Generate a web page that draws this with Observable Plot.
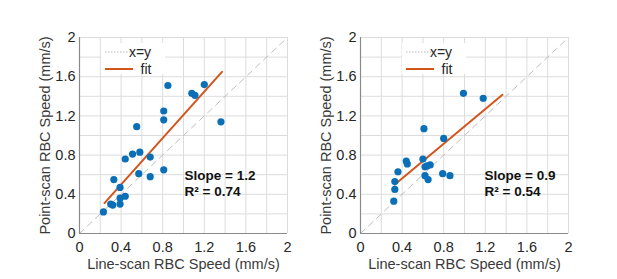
<!DOCTYPE html>
<html>
<head>
<meta charset="utf-8">
<script src="https://cdn.jsdelivr.net/npm/d3@7"></script>
<script src="https://cdn.jsdelivr.net/npm/@observablehq/plot@0.6"></script>
<style>
  body { margin: 0; background: #fff; }
  #wrap { position: relative; width: 617px; height: 279px; overflow: hidden; background: #fff; }
  .panel { position: absolute; top: 0; }
</style>
</head>
<body>
<div id="wrap"></div>
<script>
// ---- data ----
const leftX  = [0.23,0.30,0.32,0.33,0.39,0.39,0.39,0.44,0.44,0.51,0.55,0.58,0.57,0.68,0.68,0.81,0.81,0.81,0.85,1.08,1.11,1.20,1.36];
const leftY  = [0.22,0.30,0.29,0.55,0.47,0.36,0.30,0.38,0.76,0.81,1.09,0.83,0.61,0.78,0.58,1.25,1.16,0.65,1.51,1.43,1.41,1.52,1.14];
const leftFitX = [0.24, 1.37];
const leftFitY = [0.31, 1.65];
const leftStats = ["Slope = 1.2", "R² = 0.74"];

const rightX = [0.32,0.33,0.33,0.36,0.44,0.45,0.61,0.60,0.62,0.64,0.67,0.62,0.65,0.79,0.80,0.86,0.99,1.18];
const rightY = [0.33,0.53,0.45,0.63,0.74,0.71,1.07,0.76,0.68,0.69,0.70,0.59,0.55,0.61,0.97,0.59,1.43,1.38];
const rightFitX = [0.33, 1.365];
const rightFitY = [0.50, 1.415];
const rightStats = ["Slope = 0.9", "R² = 0.54"];

const identityXY = [0, 2];
const gridTicks = [0,0.2,0.4,0.6,0.8,1.0,1.2,1.4,1.6,1.8,2.0];
const labelTicks = [0,0.4,0.8,1.2,1.6,2];
const xLabel = "Line-scan RBC Speed (mm/s)";
const yLabel = "Point-scan RBC Speed (mm/s)";
const legendLabels = ["x=y", "fit"];

const FONT = "'Liberation Sans', Arial, Helvetica, sans-serif";
const BLUE = "#0a6fb6";
const ORANGE = "#d2561c";

function panel({xs, ys, fitX, fitY, stats, width, marginLeft, marginRight, statsDx, legendDx}) {
  const pts = xs.map((x, i) => ({x, y: ys[i]}));
  const fit = fitX.map((x, i) => ({x, y: fitY[i]}));
  const ident = identityXY.map(v => ({x: v, y: v}));
  const chart = Plot.plot({
    width, height: 279,
    marginLeft, marginRight, marginTop: 37, marginBottom: 46,
    style: {fontFamily: FONT, fontSize: "14px", color: "#262626", background: "#fff"},
    x: {domain: [0, 2]},
    y: {domain: [0, 2]},
    marks: [
      Plot.gridX(gridTicks, {stroke: "#dcdcdc", strokeOpacity: 1}),
      Plot.gridY(gridTicks, {stroke: "#dcdcdc", strokeOpacity: 1}),
      Plot.line(ident, {x: "x", y: "y", stroke: "#bdbdbd", strokeWidth: 1, strokeDasharray: "6,5"}),
      Plot.ruleX([0], {stroke: "#8a8a8a", strokeWidth: 1.2}),
      Plot.ruleY([0], {stroke: "#8a8a8a", strokeWidth: 1.2}),
      Plot.line(fit, {x: "x", y: "y", stroke: ORANGE, strokeWidth: 2}),
      Plot.dot(pts, {x: "x", y: "y", r: 3.6, fill: BLUE, stroke: "none"}),
      Plot.axisX(labelTicks, {tickSize: 0, tickPadding: 8, label: null, tickFormat: d => String(d), fontSize: 14.5}),
      Plot.axisY(labelTicks, {tickSize: 0, tickPadding: 4, label: null, tickFormat: d => String(d), fontSize: 14.5}),
      Plot.text([xLabel], {frameAnchor: "bottom", dy: 31, lineAnchor: "middle", textAnchor: "middle", fontSize: 14.5, fill: "#3a3a3a"}),
      Plot.text([yLabel], {frameAnchor: "left", rotate: -90, dx: -34, lineAnchor: "middle", textAnchor: "middle", fontSize: 14.5, fill: "#3a3a3a"}),
      Plot.text([stats.join("\n")], {frameAnchor: "bottom-left", dx: statsDx, dy: -51, textAnchor: "start",
        lineAnchor: "middle", lineHeight: 1.2, fontSize: 13.5, fontWeight: "bold", fill: "#111"})
    ]
  });
  // legend box (layout element, not data)
  const svg = d3.select(chart);
  const lx = marginLeft + legendDx;
  const g = svg.append("g").attr("font-family", FONT).attr("font-size", 14).attr("fill", "#262626");
  g.append("rect").attr("x", lx - 4).attr("y", 43).attr("width", 64).attr("height", 31).attr("fill", "#fff");
  g.append("line").attr("x1", lx).attr("x2", lx + 28).attr("y1", 52).attr("y2", 52)
    .attr("stroke", "#b8b8b8").attr("stroke-width", 1).attr("stroke-dasharray", "1.5,1.5");
  g.append("text").attr("x", lx + 35).attr("y", 52).attr("dy", "0.35em").text(legendLabels[0]);
  g.append("line").attr("x1", lx).attr("x2", lx + 28).attr("y1", 69).attr("y2", 69)
    .attr("stroke", ORANGE).attr("stroke-width", 2);
  g.append("text").attr("x", lx + 41).attr("y", 69).attr("dy", "0.35em").text(legendLabels[1]);
  return chart;
}

const wrap = document.getElementById("wrap");
const left = panel({xs: leftX, ys: leftY, fitX: leftFitX, fitY: leftFitY, stats: leftStats,
  width: 300, marginLeft: 79, marginRight: 13, statsDx: 105, legendDx: 26});
left.classList.add("panel"); left.style.left = "0px";
wrap.appendChild(left);
const right = panel({xs: rightX, ys: rightY, fitX: rightFitX, fitY: rightFitY, stats: rightStats,
  width: 317, marginLeft: 60, marginRight: 49, statsDx: 124, legendDx: 46});
right.classList.add("panel"); right.style.left = "300px";
wrap.appendChild(right);
</script>
</body>
</html>
